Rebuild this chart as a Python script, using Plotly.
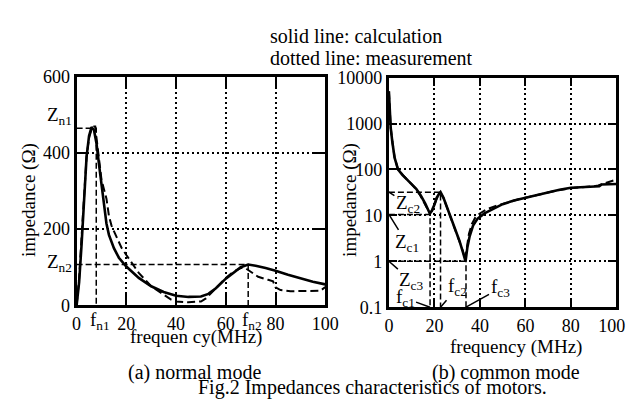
import math
import plotly.graph_objects as go

# ---------------- (a) normal mode ----------------
fn_calc = [0, 1, 2, 3, 4, 5, 6, 7, 8, 9, 10, 11, 12, 13, 15, 17, 19, 20, 25, 30, 35, 40, 45, 50,
           53, 56, 60, 63, 66, 69, 72, 76, 80, 85, 90, 95, 100]
zn_calc = [0, 60, 160, 290, 390, 445, 468, 460, 425, 370, 315, 265, 215, 185, 150, 125, 108, 102, 72, 50, 35, 25, 22, 23,
           30, 45, 70, 85, 100, 107, 104, 98, 91, 80, 70, 62, 55]
fn_meas = [0, 1, 2, 3, 4, 5, 6, 7, 7.5, 8, 9, 10, 11, 12, 13, 14, 15, 16, 17, 18, 20, 22, 25, 30, 35, 38, 40, 45,
           50, 52, 55, 58, 60, 63, 66, 68, 70, 73, 77, 79, 80, 82, 86, 95, 98, 100]
zn_meas = [0, 70, 180, 300, 390, 440, 462, 470, 470, 440, 380, 330, 305, 280, 235, 210, 195, 180, 165, 152, 132, 112, 85, 50, 28, 15, 10, 8,
           10, 18, 38, 58, 72, 88, 98, 97, 88, 75, 67, 63, 47, 40, 37, 37, 38, 48]
fn1, Zn1 = 7.9, 465
fn2, Zn2 = 69, 107
xa_ticks = [0, 20, 40, 60, 80, 100]
ya_ticks = [0, 200, 400, 600]

# ---------------- (b) common mode ----------------
fc_calc = [0, 0.3, 0.8, 1.5, 2.5, 4, 6, 8, 10, 12, 14, 16, 18, 19, 20, 21, 22, 22.7, 24, 25.5, 27, 29, 31, 32.5, 33.7,
           34.5, 35.5, 37, 39, 42, 46, 50, 55, 60, 65, 70, 75, 80, 85, 90, 92.5, 93.5, 100]
zc_calc = [5000, 2000, 800, 400, 180, 100, 75, 60, 48, 38, 27, 18, 11, 13, 17, 24, 29, 32, 24, 15, 9.5, 5.5, 2.8, 1.6, 1.0,
           2.0, 3.5, 6, 8.5, 11, 14, 17.5, 21, 24, 28, 32, 36, 40, 41, 42, 43, 47, 48]
fc_meas = [0, 0.3, 0.8, 1.5, 2.5, 4, 6, 8, 10, 12, 14, 16, 18, 19, 20, 21, 22, 22.7, 24, 25.5, 27, 29, 31, 32.5, 33.5,
           34.3, 35.2, 36.5, 38, 40, 43, 47, 52, 57, 62, 68, 74, 80, 86, 90, 92, 95, 98, 100]
zc_meas = [5000, 2100, 820, 410, 185, 100, 76, 60, 48, 37, 26, 17.5, 11, 12.5, 17, 23, 28, 31, 24, 15, 9.5, 5.5, 2.9, 1.7, 1.1,
           2.3, 4, 6.5, 9, 11, 13.5, 16, 19, 22.5, 25.5, 30, 35, 39, 41, 43, 45, 50, 56, 60]
fc1, Zc1 = 18.1, 10.5
fc2, Zc2 = 22.7, 32
fc3, Zc3 = 33.9, 1.0
xb_ticks = [0, 20, 40, 60, 80, 100]
xb_labels = ["0", "20", "40", "60", "80", "100\u00a0\u00a0"]
yb_ticks = [0.1, 1, 10, 100, 1000, 10000]
yb_labels = ["0.1", "1", "10", "100", "1000", "10000"]

FONT = "Liberation Serif"
W, H = 636, 403


def px(x):
    return x / W


def py(y):
    return 1 - y / H


fig = go.Figure()
solid = dict(color="black", width=2.6)
dashed = dict(color="black", width=2, dash="8px,4px")
guide = dict(color="black", width=1.5, dash="6px,3px")

# (a) traces
fig.add_trace(go.Scatter(x=[0, fn1, fn1], y=[Zn1, Zn1, 0], mode="lines", line=guide, xaxis="x", yaxis="y"))
fig.add_trace(go.Scatter(x=[0, fn2, fn2], y=[Zn2, Zn2, 0], mode="lines", line=guide, xaxis="x", yaxis="y"))
fig.add_trace(go.Scatter(x=fn_meas, y=zn_meas, mode="lines", line=dashed, xaxis="x", yaxis="y"))
fig.add_trace(go.Scatter(x=fn_calc, y=zn_calc, mode="lines", line=solid, xaxis="x", yaxis="y"))

# (b) traces
for f, z in [(fc1, Zc1), (fc2, Zc2), (fc3, Zc3)]:
    fig.add_trace(go.Scatter(x=[0, f, f], y=[z, z, 0.1], mode="lines", line=guide, xaxis="x2", yaxis="y2"))
fig.add_trace(go.Scatter(x=fc_meas, y=zc_meas, mode="lines", line=dashed, xaxis="x2", yaxis="y2"))
fig.add_trace(go.Scatter(x=fc_calc, y=zc_calc, mode="lines", line=solid, xaxis="x2", yaxis="y2"))

common_axis = dict(
    showline=True, linecolor="black", linewidth=3, mirror="ticks",
    ticks="inside", tickcolor="black", tickwidth=2,
    showgrid=True, gridcolor="black", gridwidth=1.5, griddash="2px,3px",
    zeroline=False, tickfont=dict(family=FONT, size=18, color="black"),
)

fig.update_layout(
    width=W, height=H, margin=dict(l=0, r=0, t=0, b=0),
    paper_bgcolor="white", plot_bgcolor="white", showlegend=False,
    font=dict(family=FONT, color="black", size=19),
    xaxis=dict(common_axis, domain=[px(66), px(324)], range=[0, 100], tickvals=xa_ticks,
               ticklen=12, anchor="y"),
    yaxis=dict(common_axis, domain=[py(302.3), py(62)], range=[0, 600], tickvals=ya_ticks,
               ticklen=12, anchor="x"),
    xaxis2=dict(common_axis, domain=[px(390), px(626)], range=[0, 100], tickvals=xb_ticks,
                ticktext=xb_labels, ticklen=8, anchor="y2"),
    yaxis2=dict(common_axis, domain=[py(304.3), py(62.7)], type="log", range=[-1, 4],
                tickvals=yb_ticks, ticktext=yb_labels, ticklen=8, anchor="x2"),
)

ann = []
tf = dict(family=FONT, size=19, color="black")
# (a) special tick labels
ann.append(dict(text="Z<sub>n1</sub>", xref="paper", yref="y", x=px(63), y=Zn1, xanchor="right",
                yanchor="middle", yshift=12, showarrow=False, font=tf))
ann.append(dict(text="Z<sub>n2</sub>", xref="paper", yref="y", x=px(63), y=Zn2, xanchor="right",
                yanchor="middle", yshift=2, showarrow=False, font=tf))
ann.append(dict(text="f<sub>n1</sub>", xref="x", yref="y domain", x=fn1, y=0, xanchor="center",
                yanchor="top", yshift=-2, xshift=4, showarrow=False, font=tf))
ann.append(dict(text="f<sub>n2</sub>", xref="x", yref="y domain", x=fn2, y=0, xanchor="center",
                yanchor="top", yshift=-2, xshift=4, showarrow=False, font=tf))

# (b) labelled leaders
arrow = dict(showarrow=True, arrowhead=0, arrowwidth=1.5, arrowcolor="black", standoff=0, font=tf,
             xref="x2", yref="y2")
ann.append(dict(arrow, text="Z<sub>c2</sub>", x=0, y=math.log10(Zc2), ax=19, ay=12))
ann.append(dict(arrow, text="Z<sub>c1</sub>", x=0, y=math.log10(Zc1), ax=18, ay=29))
ann.append(dict(arrow, text="Z<sub>c3</sub>", x=0, y=math.log10(Zc3), ax=23, ay=20))
ann.append(dict(arrow, text="f<sub>c1</sub>", x=fc1, y=-1, ax=-25, ay=-9))
ann.append(dict(arrow, text="f<sub>c2</sub>", x=fc2, y=-1, ax=17, ay=-20))
ann.append(dict(arrow, text="f<sub>c3</sub>", x=fc3, y=-1, ax=34, ay=-19))

# titles and captions
lf = dict(family=FONT, size=20, color="black")
af = dict(family=FONT, size=19, color="black")
ann.append(dict(text="solid line: calculation", xref="paper", yref="paper", x=px(265), y=py(19),
                xanchor="left", yanchor="middle", showarrow=False, font=lf))
ann.append(dict(text="dotted line: measurement", xref="paper", yref="paper", x=px(265), y=py(42),
                xanchor="left", yanchor="middle", showarrow=False, font=lf))
ann.append(dict(text="impedance (Ω)", xref="paper", yref="paper", x=px(16), y=py(191), textangle=-90,
                xanchor="center", yanchor="middle", showarrow=False, font=af))
ann.append(dict(text="impedance (Ω)", xref="paper", yref="paper", x=px(349), y=py(191), textangle=-90,
                xanchor="center", yanchor="middle", showarrow=False, font=af))
ann.append(dict(text="frequen cy(MHz)", xref="paper", yref="paper", x=px(190), y=py(336),
                xanchor="center", yanchor="middle", showarrow=False, font=af))
ann.append(dict(text="frequency (MHz)", xref="paper", yref="paper", x=px(522), y=py(346),
                xanchor="center", yanchor="middle", showarrow=False, font=af))
ann.append(dict(text="(a) normal mode", xref="paper", yref="paper", x=px(188), y=py(373),
                xanchor="center", yanchor="middle", showarrow=False, font=lf))
ann.append(dict(text="(b) common mode", xref="paper", yref="paper", x=px(511), y=py(373),
                xanchor="center", yanchor="middle", showarrow=False, font=lf))
ann.append(dict(text="Fig.2 Impedances characteristics of motors.", xref="paper", yref="paper",
                x=px(190), y=py(389), xanchor="left", yanchor="middle", showarrow=False, font=lf))

fig.update_layout(annotations=ann)
fig.write_html("out.html")
